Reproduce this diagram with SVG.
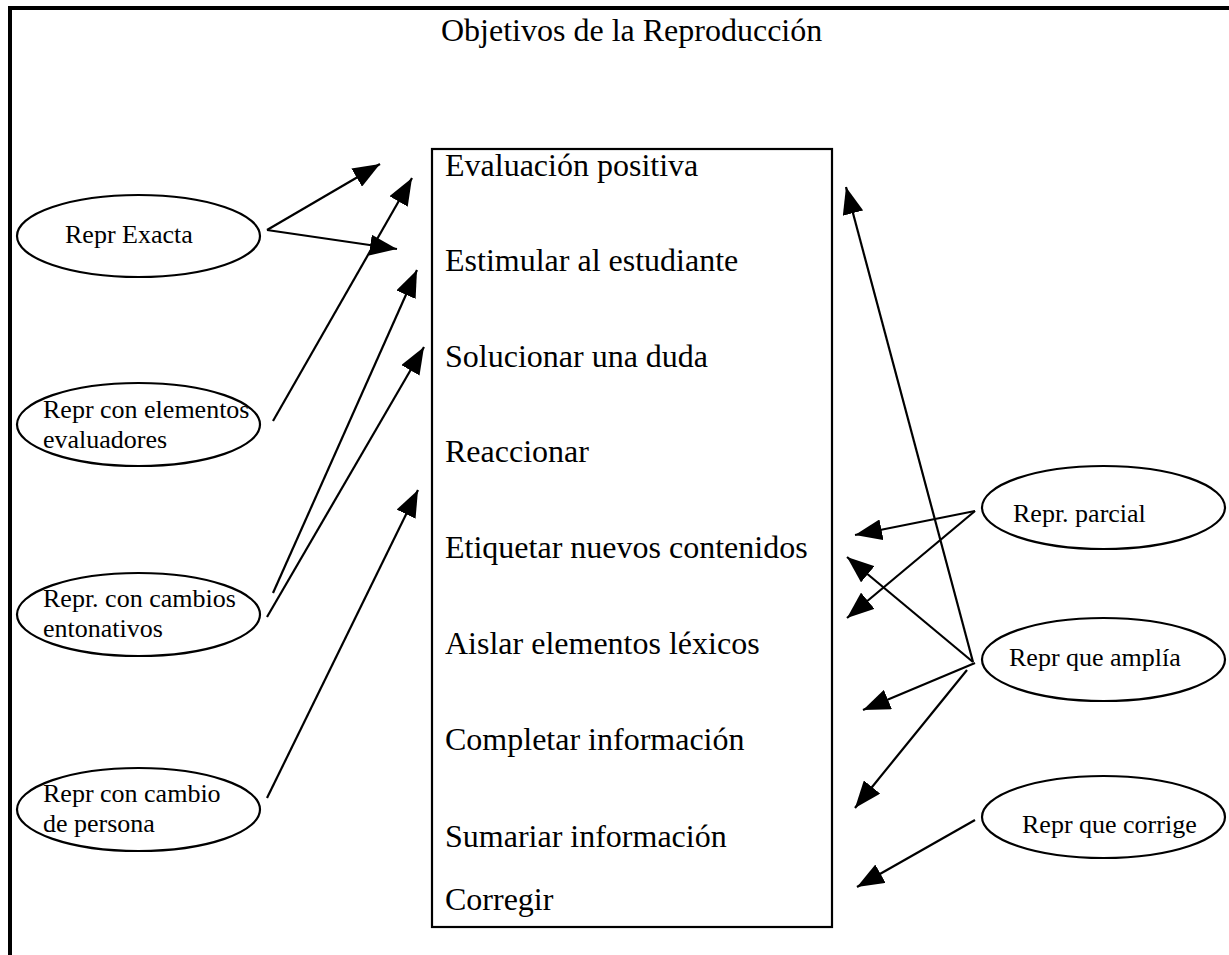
<svg xmlns="http://www.w3.org/2000/svg" width="1229" height="955" viewBox="0 0 1229 955">
  <style>
    text { font-family: "Liberation Serif", "Times New Roman", serif; fill: #000; }
    .title { font-size: 32px; }
    .item { font-size: 32px; }
    .lbl { font-size: 26px; }
    .node ellipse { fill: #fff; stroke: #000; stroke-width: 2.2; }
    .frame { fill: none; stroke: #000; stroke-width: 4; }
    .box { fill: #fff; stroke: #000; stroke-width: 2.2; }
    .conn line { stroke: #000; stroke-width: 2.2; marker-end: url(#arrow); }
  </style>
  <defs>
    <marker id="arrow" viewBox="0 0 27 21" refX="27" refY="10.5" markerWidth="27" markerHeight="21" markerUnits="userSpaceOnUse" orient="auto">
      <path d="M0,0 L27,10.5 L0,21 z" fill="#000"/>
    </marker>
  </defs>

  <rect width="1229" height="955" fill="#fff"/>

  <!-- outer page frame, open on the right and bottom -->
  <path class="frame" d="M10,960 L10,8 L1240,8"/>

  <text class="title" x="441" y="41">Objetivos de la Reproducción</text>

  <!-- central list of objectives -->
  <g id="objetivos">
    <rect class="box" x="432" y="149" width="400" height="778"/>
    <text class="item" x="445" y="176">Evaluación positiva</text>
    <text class="item" x="445" y="271">Estimular al estudiante</text>
    <text class="item" x="445" y="367">Solucionar una duda</text>
    <text class="item" x="445" y="462">Reaccionar</text>
    <text class="item" x="445" y="558">Etiquetar nuevos contenidos</text>
    <text class="item" x="445" y="654">Aislar elementos léxicos</text>
    <text class="item" x="445" y="750">Completar información</text>
    <text class="item" x="445" y="847">Sumariar información</text>
    <text class="item" x="445" y="910">Corregir</text>
  </g>

  <!-- left-hand reproduction types -->
  <g id="repr-exacta" class="node">
    <ellipse cx="138.5" cy="236" rx="121.5" ry="41"/>
    <text class="lbl" x="65" y="243">Repr Exacta</text>
  </g>
  <g id="repr-elementos" class="node">
    <ellipse cx="138.5" cy="424.5" rx="121.5" ry="41.5"/>
    <text class="lbl" x="43" y="418">Repr con elementos</text>
    <text class="lbl" x="43" y="448">evaluadores</text>
  </g>
  <g id="repr-entonativos" class="node">
    <ellipse cx="138.5" cy="614.5" rx="121.5" ry="41.5"/>
    <text class="lbl" x="43" y="607">Repr. con cambios</text>
    <text class="lbl" x="43" y="637">entonativos</text>
  </g>
  <g id="repr-persona" class="node">
    <ellipse cx="138.5" cy="809.5" rx="121.5" ry="41.5"/>
    <text class="lbl" x="43" y="802">Repr con cambio</text>
    <text class="lbl" x="43" y="832">de persona</text>
  </g>

  <!-- right-hand reproduction types -->
  <g id="repr-parcial" class="node">
    <ellipse cx="1103.5" cy="507.5" rx="121.5" ry="41.5"/>
    <text class="lbl" x="1013" y="522">Repr. parcial</text>
  </g>
  <g id="repr-amplia" class="node">
    <ellipse cx="1103.5" cy="659.5" rx="121.5" ry="41.5"/>
    <text class="lbl" x="1009" y="666">Repr que amplía</text>
  </g>
  <g id="repr-corrige" class="node">
    <ellipse cx="1103.5" cy="817" rx="121.5" ry="41"/>
    <text class="lbl" x="1022" y="833">Repr que corrige</text>
  </g>

  <!-- connectors -->
  <g id="connectors" class="conn">
    <line x1="267" y1="230" x2="380" y2="164"/>
    <line x1="267" y1="230" x2="397" y2="249"/>
    <line x1="273" y1="421" x2="412" y2="178"/>
    <line x1="273" y1="593" x2="417" y2="270"/>
    <line x1="267" y1="617" x2="424" y2="347"/>
    <line x1="267" y1="798" x2="418" y2="490"/>

    <line x1="973" y1="662" x2="846" y2="187"/>
    <line x1="975" y1="511" x2="855" y2="535"/>
    <line x1="975" y1="511" x2="847" y2="618"/>
    <line x1="973" y1="662" x2="847" y2="557"/>
    <line x1="975" y1="663" x2="863" y2="710"/>
    <line x1="967" y1="670" x2="855" y2="808"/>
    <line x1="975" y1="820" x2="857" y2="887"/>
  </g>
</svg>
